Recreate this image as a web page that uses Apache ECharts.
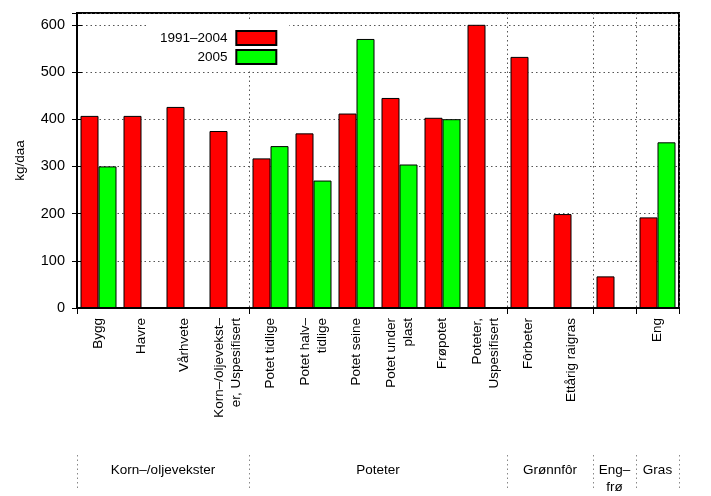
<!DOCTYPE html>
<html>
<head>
<meta charset="utf-8">
<script src="https://cdn.jsdelivr.net/npm/echarts@6/dist/echarts.min.js"></script>
<style>html,body{margin:0;padding:0;background:#fff}#c{width:711px;height:496px}</style>
</head>
<body>
<div id="c"></div>
<script>
const categories = ['Bygg','Havre','Vårhvete','Korn–/oljevekst–\ner, Uspesifisert','Potet tidlige','Potet halv–\ntidlige','Potet seine','Potet under\nplast','Frøpotet','Poteter,\nUspesifisert','Fôrbeter','Ettårig raigras','','Eng'];
const series1991 = [407,407,426,375,317,370,412,445,403,600,532,199,67,192];
const series2005 = [300,null,null,null,343,270,570,304,400,null,null,null,null,351];
const seriesNames = ['1991–2004','2005'];
const groupNames = ['Korn–/oljevekster','Poteter','Grønnfôr','Eng–\nfrø','Gras'];
const groupSizes = [4,6,2,1,1];
const yMin = 0, yMax = 625, yStep = 100;
const yAxisTitle = 'kg/daa';

const groupBounds = [0];
groupSizes.forEach(s => groupBounds.push(groupBounds[groupBounds.length-1] + s));
const groupCenters = groupSizes.map((s,i) => groupBounds[i] + s/2);

const FONT = 'Liberation Sans';
const chart = echarts.init(document.getElementById('c'));
const dotted = {type:[1.5,3], color:'#555', width:1};
chart.setOption({
  animation:false,
  textStyle:{fontFamily:FONT},
  grid:{left:77, right:32, top:13, bottom:184, show:true, borderColor:'#000', borderWidth:2, containLabel:false},
  legend:{
    data:seriesNames, orient:'vertical', align:'right', left:147, top:22,
    itemWidth:40, itemHeight:14, itemGap:3, padding:[8,12,5,13], backgroundColor:'#fff',
    formatter:name => name + ' ',
    textStyle:{fontFamily:FONT, fontSize:13.5, color:'#000'}, icon:'rect'
  },
  xAxis:[
    {type:'category', data:categories, position:'bottom',
     axisLine:{lineStyle:{color:'#000', width:2}},
     axisTick:{inside:true, length:5, interval:0, lineStyle:{color:'#000'}},
     axisLabel:{rotate:90, interval:0, margin:10, fontSize:13.5, color:'#000', lineHeight:17, fontFamily:FONT},
     splitLine:{show:false}},
    {type:'value', min:0, max:groupBounds[groupBounds.length-1], position:'bottom',
     axisLine:{show:false},
     axisTick:{show:true, customValues:groupBounds, inside:false, length:6, lineStyle:{color:'#000'}},
     axisLabel:{show:false},
     splitLine:{show:true, lineStyle:dotted}},
    {type:'value', min:0, max:groupBounds[groupBounds.length-1], position:'bottom', offset:147,
     axisLine:{show:false},
     axisTick:{show:true, customValues:groupBounds, inside:false, length:35, lineStyle:{type:[1.5,3], color:'#888'}},
     axisLabel:{show:true, customValues:groupCenters, margin:7, fontSize:13.5, color:'#000', lineHeight:17, fontFamily:FONT,
       formatter:v => { const i = groupCenters.indexOf(v); return i >= 0 ? groupNames[i] : ''; }},
     splitLine:{show:false}}
  ],
  yAxis:[
    {type:'value', min:yMin, max:yMax, interval:yStep, position:'left',
     name:yAxisTitle, nameLocation:'middle', nameGap:50, nameRotate:90,
     nameTextStyle:{fontSize:13.5, color:'#000', fontFamily:FONT},
     axisLine:{show:true, lineStyle:{color:'#000', width:2}},
     axisTick:{show:true, inside:true, length:5, lineStyle:{color:'#000'}},
     axisLabel:{margin:12, fontSize:14.5, color:'#000', fontFamily:FONT, formatter:v => (v % yStep === 0 ? String(v) : '')},
     splitLine:{show:true, lineStyle:dotted}},
    {type:'value', min:yMin, max:yMax, interval:yStep, position:'right',
     axisLine:{show:true, lineStyle:{color:'#000', width:2}},
     axisTick:{show:true, inside:true, length:5, lineStyle:{color:'#000'}},
     axisLabel:{show:false}, splitLine:{show:false}}
  ],
  series:[
    {name:seriesNames[0], type:'bar', xAxisIndex:0, yAxisIndex:0, data:series1991, barWidth:18, barGap:'0%',
     itemStyle:{color:'#ff0000', borderColor:'#000', borderWidth:1}},
    {name:seriesNames[1], type:'bar', xAxisIndex:0, yAxisIndex:0, data:series2005, barWidth:18, barGap:'0%',
     itemStyle:{color:'#00ff00', borderColor:'#000', borderWidth:1}}
  ]
});
</script>
</body>
</html>
